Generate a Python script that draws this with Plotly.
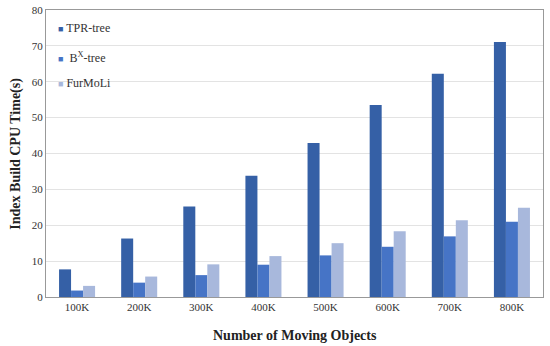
import plotly.graph_objects as go

categories = ["100K", "200K", "300K", "400K", "500K", "600K", "700K", "800K"]
tpr_tree = [7.7, 16.3, 25.2, 33.8, 42.9, 53.5, 62.2, 71.1]
bx_tree = [1.8, 4.0, 6.1, 9.0, 11.6, 14.0, 16.9, 21.0]
furmoli = [3.1, 5.7, 9.1, 11.4, 15.0, 18.3, 21.4, 24.9]
series_names = ["TPR-tree", " B<sup>X</sup>-tree", "FurMoLi"]
colors = ["#3560A6", "#4674C6", "#A8B8DC"]
legend_y = [0.937, 0.836, 0.746]

font = "Liberation Serif"
fig = go.Figure()
for name, vals, c in zip(series_names, [tpr_tree, bx_tree, furmoli], colors):
    fig.add_trace(go.Bar(x=categories, y=vals, name=name, marker_color=c,
                         marker_line_width=0, showlegend=False))

annotations = [
    dict(text="<b>Number of Moving Objects</b>", xref="paper", yref="paper",
         x=0.5, y=-0.10, xanchor="center", yanchor="top", showarrow=False,
         font=dict(family=font, size=14, color="#222")),
    dict(text="<b>Index Build CPU Time(s)</b>", xref="paper", yref="paper",
         x=-0.062, y=0.5, xanchor="center", yanchor="middle", showarrow=False,
         textangle=-90, font=dict(family=font, size=14, color="#222")),
]
for name, c, ly in zip(series_names, colors, legend_y):
    annotations.append(dict(
        text=f"<span style='color:{c};font-size:9px'>■</span> {name}", xref="paper", yref="paper",
        x=0.02, y=ly, xanchor="left", yanchor="middle", showarrow=False,
        font=dict(family=font, size=12, color="#333")))

fig.update_layout(
    width=550, height=346,
    margin=dict(l=46, r=7, t=10, b=49),
    paper_bgcolor="white", plot_bgcolor="white",
    barmode="group", bargap=0.42, bargroupgap=0,
    font=dict(family=font, size=11, color="#333"),
    showlegend=False,
    annotations=annotations,
)
fig.update_xaxes(showline=True, linecolor="#999", linewidth=1, mirror=True, automargin=False,
                 ticks="", tickfont=dict(family=font, size=11, color="#333"))
fig.update_yaxes(range=[0, 80], dtick=10, showline=True, linecolor="#999", linewidth=1,
                 mirror=True, gridcolor="#E3E3E3", gridwidth=1, zeroline=False, automargin=False,
                 tickfont=dict(family=font, size=11, color="#333"))
fig.write_html("out.html", config={"displayModeBar": False},
               post_script="document.body.style.margin='0';")
